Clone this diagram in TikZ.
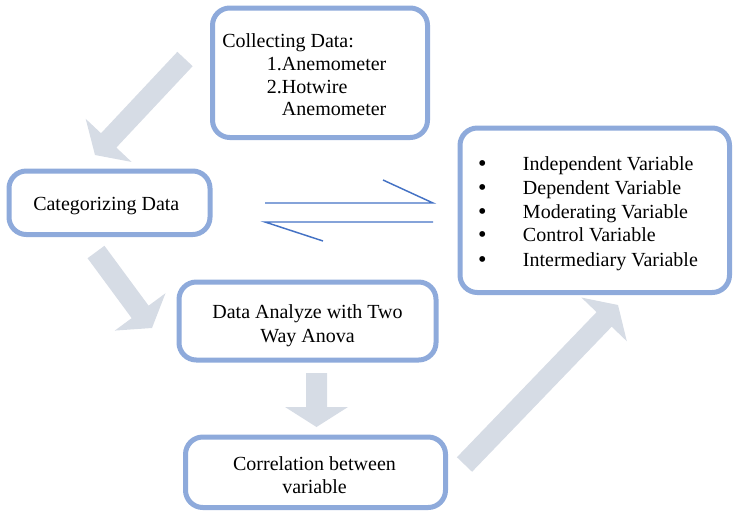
\documentclass[tikz,border=0pt]{standalone}
\usepackage{fontspec}
\setmainfont{Liberation Serif}
\usetikzlibrary{calc}
\definecolor{boxblue}{HTML}{8EAADB}
\definecolor{arrowgray}{HTML}{D6DCE5}
\definecolor{eqblue}{HTML}{4472C4}
\tikzset{
  box/.style={draw=boxblue, line width=3.75pt, rounded corners=13pt, fill=white, inner sep=0pt},
  txt/.style={font=\fontsize{15}{18}\selectfont, inner sep=0pt},
  bullettxt/.style={font=\fontsize{16}{18}\selectfont\bfseries, inner sep=0pt},
  eqline/.style={draw=eqblue, line width=1.1pt},
  arrowfill/.style={fill=arrowgray}
}
\newcommand\bigarr[2]{%
  \coordinate (#1-h) at ($(#2)!15pt!(#1)$);
  \fill[arrowfill] ($(#1)!7.875pt!90:(#2)$) -- ($(#1-h)!7.875pt!90:(#2)$) -- ($(#1-h)!23.625pt!90:(#2)$) -- (#2) -- ($(#1-h)!23.625pt!-90:(#2)$) -- ($(#1-h)!7.875pt!-90:(#2)$) -- ($(#1)!7.875pt!-90:(#2)$) -- cycle;}
\begin{document}
\begin{tikzpicture}[x=0.75pt,y=-0.75pt]
\useasboundingbox (0,0) rectangle (735,514);
% boxes
\node[box, minimum width=161.25pt, minimum height=97.125pt] (b1) at (320,72.75) {};
\node[box, minimum width=150.75pt, minimum height=47.625pt] (b2) at (109.5,202.75) {};
\node[box, minimum width=192.75pt, minimum height=58.5pt] (b3) at (307.5,321) {};
\node[box, minimum width=195pt, minimum height=52.875pt] (b4) at (315.5,472.25) {};
\node[box, minimum width=202.125pt, minimum height=123.375pt] (b5) at (594.75,210.25) {};
% box 1 text
\node[txt, anchor=base west] (t11) at (222,47) {Collecting Data:};
\node[txt, anchor=base west] (t12) at (266.7,70.5) {1.Anemometer};
\node[txt, anchor=base west] (t13) at (266.7,93) {2.Hotwire};
\node[txt, anchor=base west] (t14) at (281.7,115.5) {Anemometer};
% box 2 text
\node[txt, anchor=base west] (t21) at (33,210) {Categorizing Data};
% box 3 text
\node[txt, anchor=base] (t31) at (307.5,318) {Data Analyze with Two};
\node[txt, anchor=base] (t32) at (307.5,342) {Way Anova};
% box 4 text
\node[txt, anchor=base] (t41) at (314.5,470) {Correlation between};
\node[txt, anchor=base] (t42) at (314.5,493.5) {variable};
% box 5 list
\foreach \i/\y/\t in {1/170/Independent Variable, 2/194/Dependent Variable, 3/218.3/Moderating Variable, 4/241.7/Control Variable, 5/266.5/Intermediary Variable}{
  \node[bullettxt, anchor=base] (bul\i) at (482.3,\y) {•};
  \node[txt, anchor=base west] (t5\i) at (522.7,\y) {\t};
}
% equilibrium arrows
\coordinate (eqL1) at (265,203);
\coordinate (eqR1) at (433,203);
\coordinate (eqB1) at (383,180);
\coordinate (eqR2) at (433,222);
\coordinate (eqL2) at (265,222);
\coordinate (eqB2) at (323,241);
\draw[eqline] (eqL1) -- (eqR1) -- (eqB1);
\draw[eqline] (eqR2) -- (eqL2) -- (eqB2);
% block arrows
\coordinate (a1s) at (185,59);   \coordinate (a1t) at (95,155);
\coordinate (a2s) at (96,252);   \coordinate (a2t) at (152,328);
\coordinate (a3s) at (316.5,373); \coordinate (a3t) at (316.5,427);
\coordinate (a4s) at (464.5,464.5); \coordinate (a4t) at (618,305);
\bigarr{a1s}{a1t}
\bigarr{a2s}{a2t}
\bigarr{a3s}{a3t}
\bigarr{a4s}{a4t}
\end{tikzpicture}
\end{document}
